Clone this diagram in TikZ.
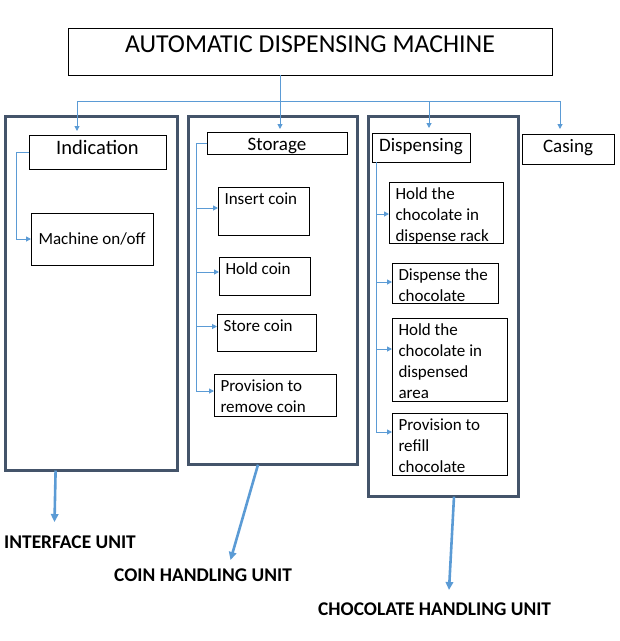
\documentclass[tikz,border=0pt]{standalone}
\usepackage{fontspec}
\setmainfont{Carlito}
\usetikzlibrary{arrows.meta}
\definecolor{linkcol}{HTML}{5B9BD5}
\definecolor{unitcol}{HTML}{44546A}
\newcommand\itemfont{\fontsize{17}{21}\selectfont}
\newcommand\headfont{\fontsize{19}{23}\selectfont}
\newcommand\indfont{\fontsize{20.5}{24.5}\selectfont}
\newcommand\titlefont{\fontsize{25.8}{30}\selectfont}
\newcommand\unitfont{\fontsize{19.4}{23}\selectfont\bfseries}
\newcommand\ltbox[3]{\parbox[c][#2pt][t]{#1pt}{\raggedright\leftskip=6.5pt\relax\vspace*{2.5pt}\strut#3}}
\newcommand\ctbox[3]{\parbox[c][#2pt][t]{#1pt}{\centering\vspace*{2pt}\strut#3}}
\newcommand\ccbox[3]{\parbox[c][#2pt][c]{#1pt}{\centering#3}}
\tikzset{
  boxed/.style={draw=black, line width=0.9pt, inner sep=0pt, outer sep=0pt, anchor=north west},
  item/.style={boxed, font=\itemfont},
  head/.style={boxed, font=\headfont},
  unit/.style={draw=unitcol, line width=3pt, inner sep=0pt, outer sep=0pt, anchor=north west},
  wire/.style={draw=linkcol, line width=1pt},
  link/.style={wire, -{Triangle[length=5pt,width=5pt]}},
  bigarrow/.style={draw=linkcol, line width=2.6pt, -{Triangle[length=8pt,width=7.5pt]}},
  unitlabel/.style={inner sep=0pt, anchor=west, font=\unitfont}
}
\begin{document}
\begin{tikzpicture}[x=1pt,y=-1pt]
\useasboundingbox (0,0) rectangle (620,641);
% unit frames
\node[unit, minimum width=171.3pt, minimum height=354pt] (u1) at (5.7,116.5) {};
\node[unit, minimum width=169pt, minimum height=348.2pt] (u2) at (188.3,116.5) {};
\node[unit, minimum width=150pt, minimum height=380.2pt] (u3) at (368.3,116.5) {};
% title
\node[boxed, font=\titlefont] (title) at (68,28) {\parbox[c][47pt][t]{484pt}{\centering\vspace*{3.5pt}\strut AUTOMATIC DISPENSING MACHINE}};
% headers
\node[boxed, font=\indfont] (ind) at (29,135) {\ctbox{137}{34}{Indication}};
\node[head] (stor) at (207,132) {\ctbox{140}{22}{Storage}};
\node[head] (disp) at (372,133) {\ctbox{98}{29}{Dispensing}};
\node[head] (cas) at (522,134) {\ctbox{92}{30}{Casing}};
% items
\node[item] (mach) at (31,213) {\ccbox{122}{52}{Machine on/off}};
\node[item] (ins) at (218,187) {\ltbox{91}{48}{Insert coin}};
\node[item] (hold) at (219,257) {\ltbox{91}{38}{Hold coin}};
\node[item] (store) at (217,314) {\ltbox{99}{37}{Store coin}};
\node[item] (prov) at (214,374) {\ltbox{122}{42}{Provision to\\remove coin}};
\node[item] (hd1) at (389,182) {\ltbox{114}{61}{Hold the\\chocolate in\\dispense rack}};
\node[item] (hd2) at (392,263) {\ltbox{106}{40}{Dispense the\\chocolate}};
\node[item] (hd3) at (392,318) {\ltbox{115}{83}{Hold the\\chocolate in\\dispensed\\area}};
\node[item] (hd4) at (392,413) {\ltbox{115}{62}{Provision to\\refill\\chocolate}};
% top distribution
\coordinate (bus) at (280,101);
\coordinate (b1) at (77,101);
\coordinate (b3) at (429,101);
\coordinate (b4) at (560,101);
\draw[wire] ([xshift=-30pt]title.south) -- (bus);
\draw[wire] (b1) -- (b4);
\draw[link, shorten >=4pt] (b1) -- (b1 |- ind.north);
\draw[link, shorten >=3pt] (bus) -- (bus |- stor.north);
\draw[link, shorten >=5pt] (b3) -- (b3 |- disp.north);
\draw[link, shorten >=5pt] (b4) -- (b4 |- cas.north);
% indication branch
\draw[link] (ind.west) -- ++(-13,0) |- (mach.west);
% storage branch
\draw[link] (stor.west) -- ++(-11,0) |- ([yshift=3pt]ins.west);
\draw[link] (stor.west) -- ++(-11,0) |- ([yshift=4pt]hold.west);
\draw[link] (stor.west) -- ++(-11,0) |- ([yshift=6pt]store.west);
\draw[link] (stor.west) -- ++(-11,0) |- ([yshift=4pt]prov.west);
% dispensing branch
\coordinate (dv) at ([xshift=4pt]disp.south west);
\draw[link] (dv) |- ([yshift=-1.5pt]hd1.west);
\draw[link] (dv) |- ([yshift=1pt]hd2.west);
\draw[link] (dv) |- ([yshift=10.5pt]hd3.west);
\draw[link] (dv) |- ([yshift=12pt]hd4.west);
% unit labels
\node[unitlabel] (l1) at (4,542) {INTERFACE UNIT};
\node[unitlabel] (l2) at (114,575) {COIN HANDLING UNIT};
\node[unitlabel] (l3) at (318,609) {CHOCOLATE HANDLING UNIT};
\coordinate (e1) at (54.5,522);
\coordinate (e2) at (230.5,560);
\coordinate (e3) at (449,590);
\draw[bigarrow] ([xshift=49.9pt]u1.south west) -- (e1);
\draw[bigarrow] ([xshift=69.7pt]u2.south west) -- (e2);
\draw[bigarrow] ([xshift=85.7pt]u3.south west) -- (e3);
\end{tikzpicture}
\end{document}
